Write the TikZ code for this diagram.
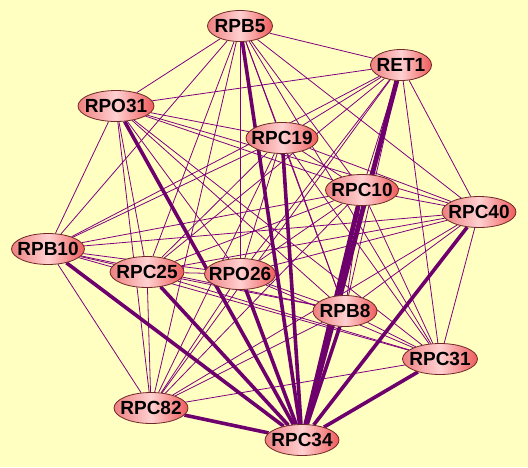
\documentclass[tikz,border=0pt]{standalone}
\usepackage{fontspec}
\setmainfont{Liberation Sans}
\usetikzlibrary{shapes.geometric, backgrounds}

\definecolor{bgyellow}{RGB}{255,255,194}
\definecolor{nodeline}{RGB}{112,40,40}
\definecolor{nodeleft}{RGB}{238,128,128}
\definecolor{nodemid}{RGB}{255,208,208}
\definecolor{noderight}{RGB}{238,92,92}
\definecolor{linkthin}{RGB}{128,0,128}
\definecolor{linkthick}{RGB}{110,0,110}

\pgfdeclarelayer{edges}
\pgfsetlayers{background,edges,main}

\newcommand{\prot}[1]{\makebox[0pt]{#1}}

\begin{document}
\begin{tikzpicture}[
    x=1pt, y=-1pt,
    protein/.style={ellipse, draw=nodeline, line width=0.8pt, left color=nodeleft, right color=noderight, middle color=nodemid, inner sep=0pt, minimum width=74pt, minimum height=31pt, font=\fontsize{19}{22}\selectfont\bfseries},
    weak/.style={draw=linkthin, line width=0.8pt},
    strong/.style={draw=linkthick, line width=3.6pt},
    heavy/.style={draw=linkthick, line width=4.8pt}
]

\useasboundingbox (0,0) rectangle (528,467);
\begin{scope}[on background layer]
\fill[bgyellow] (0,0) rectangle (528,467);
\end{scope}

% Nodes
\node[protein, minimum width=65pt] (RPB5) at (240,26) {\prot{RPB5}};
\node[protein, minimum width=61pt] (RET1) at (401,65) {\prot{RET1}};
\node[protein, minimum width=76pt] (RPO31) at (116,106) {\prot{RPO31}};
\node[protein, minimum width=72pt] (RPC19) at (282,138) {\prot{RPC19}};
\node[protein, minimum width=73pt] (RPC10) at (362,190) {\prot{RPC10}};
\node[protein] (RPC40) at (479,212) {\prot{RPC40}};
\node[protein, minimum width=73pt] (RPB10) at (48,249) {\prot{RPB10}};
\node[protein] (RPC25) at (147,272) {\prot{RPC25}};
\node[protein, minimum width=71pt] (RPO26) at (240,274) {\prot{RPO26}};
\node[protein, minimum width=64pt] (RPB8) at (345,311) {\prot{RPB8}};
\node[protein, minimum width=75pt] (RPC31) at (440,359) {\prot{RPC31}};
\node[protein] (RPC82) at (151,408) {\prot{RPC82}};
\node[protein] (RPC34) at (302,440) {\prot{RPC34}};

% Links
\begin{pgfonlayer}{edges}
\foreach \a [count=\i] in {RPB5,RET1,RPO31,RPC19,RPC10,RPC40,RPB10,RPC25,RPO26,RPB8,RPC31,RPC82}
  \foreach \b [count=\j] in {RPB5,RET1,RPO31,RPC19,RPC10,RPC40,RPB10,RPC25,RPO26,RPB8,RPC31,RPC82}
    {\ifnum\j>\i \draw[weak] (\a) -- (\b);\fi}
\foreach \a in {RPB5,RPO31,RPC19,RPC40,RPB10,RPC25,RPO26,RPB8,RPC31,RPC82}
  \draw[strong] (\a) -- (RPC34);
\draw[heavy] (RET1) -- (RPC34);
\draw[heavy] (RPC10) -- (RPC34);
\end{pgfonlayer}

\end{tikzpicture}
\end{document}
